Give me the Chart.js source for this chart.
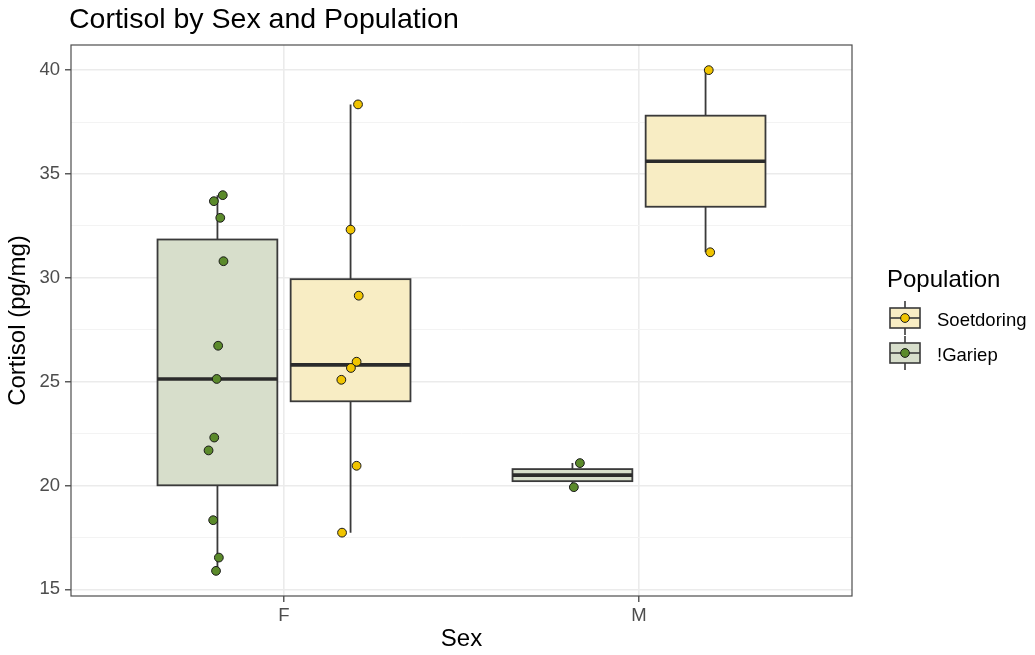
<!DOCTYPE html>
<html>
<head>
<meta charset="utf-8">
<title>Cortisol by Sex and Population</title>
<script src="https://cdn.jsdelivr.net/npm/chart.js@4.4.1/dist/chart.umd.min.js"></script>
<style>
  html, body { margin: 0; padding: 0; background: #ffffff; }
  canvas { display: block; }
</style>
</head>
<body>
<canvas id="chart" width="1035" height="655"></canvas>
<script>
// ---- data -------------------------------------------------------------
const sexes = ['F', 'M'];
const populations = ['!Gariep', 'Soetdoring'];
const legendOrder = ['Soetdoring', '!Gariep'];

// cortisol per sample (pg/mg)
const gariepF = [33.98, 33.69, 32.89, 30.80, 26.73, 25.13, 22.31, 21.69, 18.33, 16.53, 15.89];
const gariepM = [21.08, 19.92];
const soetdoringF = [38.35, 32.32, 29.14, 25.96, 25.66, 25.09, 20.95, 17.73];
const soetdoringM = [40.00, 31.23];

// horizontal jitter of each sample inside its box (category units)
const gariepFJitter = [0.015, -0.010, 0.008, 0.017, 0.002, -0.002, -0.009, -0.025, -0.012, 0.004, -0.004];
const gariepMJitter = [0.021, 0.004];
const soetdoringFJitter = [0.021, 0.000, 0.023, 0.017, 0.001, -0.026, 0.017, -0.024];
const soetdoringMJitter = [0.009, 0.013];

const yMajorTicks = [15, 20, 25, 30, 35, 40];
const yMinorTicks = [17.5, 22.5, 27.5, 32.5, 37.5];
const yTickLabels = ['15', '20', '25', '30', '35', '40'];

// ---- styling ----------------------------------------------------------
const FONT = "'Liberation Sans', Arial, Helvetica, sans-serif";
const style = {
  '!Gariep':    { point: '#5B8A2B', fill: '#D7DECB' },
  'Soetdoring': { point: '#F0C400', fill: '#F8EDC4' }
};
const DODGE = 0.1875;     // half the dodge width
const BOX_WIDTH = 0.3375; // width of one box in category units

const groups = [
  { pop: '!Gariep',    sex: 'F', values: gariepF,     jitter: gariepFJitter },
  { pop: '!Gariep',    sex: 'M', values: gariepM,     jitter: gariepMJitter },
  { pop: 'Soetdoring', sex: 'F', values: soetdoringF, jitter: soetdoringFJitter },
  { pop: 'Soetdoring', sex: 'M', values: soetdoringM, jitter: soetdoringMJitter }
];

function groupCenter(g) {
  const base = sexes.indexOf(g.sex) + 1;
  return base + (populations.indexOf(g.pop) === 0 ? -DODGE : DODGE);
}

// quantile, R type 7
function quantile(sorted, p) {
  const h = (sorted.length - 1) * p;
  const lo = Math.floor(h), hi = Math.ceil(h);
  return sorted[lo] + (h - lo) * (sorted[hi] - sorted[lo]);
}

function boxStats(values) {
  const s = values.slice().sort((a, b) => a - b);
  const q1 = quantile(s, 0.25), med = quantile(s, 0.5), q3 = quantile(s, 0.75);
  const iqr = q3 - q1;
  const inside = s.filter(v => v >= q1 - 1.5 * iqr && v <= q3 + 1.5 * iqr);
  return { q1, med, q3, lo: Math.min(...inside), hi: Math.max(...inside) };
}

// ---- datasets (jittered points) ----------------------------------------
const datasets = populations.map(pop => ({
  label: pop,
  data: groups.filter(g => g.pop === pop).flatMap(g =>
    g.values.map((v, i) => ({ x: groupCenter(g) + g.jitter[i], y: v }))),
  backgroundColor: style[pop].point,
  borderColor: '#1a1a1a',
  borderWidth: 1,
  pointRadius: 4.4,
  pointHoverRadius: 4.4
}));

// ---- plugins ----------------------------------------------------------
const boxPlugin = {
  id: 'boxes',
  beforeDatasetsDraw(chart) {
    const { ctx, scales: { x, y } } = chart;
    ctx.save();
    groups.forEach(g => {
      const st = boxStats(g.values);
      const cx = x.getPixelForValue(groupCenter(g));
      const half = (x.getPixelForValue(BOX_WIDTH) - x.getPixelForValue(0)) / 2;
      const yq1 = y.getPixelForValue(st.q1), yq3 = y.getPixelForValue(st.q3);
      const ymed = y.getPixelForValue(st.med);
      // whiskers
      ctx.strokeStyle = '#3a3a3a';
      ctx.lineWidth = 1.8;
      ctx.beginPath();
      ctx.moveTo(cx, yq3); ctx.lineTo(cx, y.getPixelForValue(st.hi));
      ctx.moveTo(cx, yq1); ctx.lineTo(cx, y.getPixelForValue(st.lo));
      ctx.stroke();
      // box
      ctx.fillStyle = style[g.pop].fill;
      ctx.fillRect(cx - half, yq3, 2 * half, yq1 - yq3);
      ctx.strokeStyle = '#3a3a3a';
      ctx.lineWidth = 1.8;
      ctx.strokeRect(cx - half, yq3, 2 * half, yq1 - yq3);
      // median
      ctx.strokeStyle = '#2b2b2b';
      ctx.lineWidth = 3.6;
      ctx.beginPath();
      ctx.moveTo(cx - half, ymed); ctx.lineTo(cx + half, ymed);
      ctx.stroke();
    });
    ctx.restore();
  }
};

const framePlugin = {
  id: 'frame',
  afterDatasetsDraw(chart) {
    const { ctx, chartArea: a } = chart;
    ctx.save();
    ctx.strokeStyle = '#4d4d4d';
    ctx.lineWidth = 1.2;
    ctx.strokeRect(a.left, a.top, a.right - a.left, a.bottom - a.top);
    ctx.restore();
  }
};

const decorPlugin = {
  id: 'decor',
  afterDraw(chart) {
    const { ctx } = chart;
    ctx.save();
    // title
    ctx.fillStyle = '#000000';
    ctx.font = `28.5px ${FONT}`;
    ctx.textAlign = 'left';
    ctx.textBaseline = 'alphabetic';
    ctx.fillText('Cortisol by Sex and Population', 69, 28);

    // legend
    ctx.font = `24px ${FONT}`;
    ctx.fillText('Population', 887, 287);
    legendOrder.forEach((pop, i) => {
      const cy = 318 + i * 35;
      const cx = 905;
      ctx.strokeStyle = '#3a3a3a';
      ctx.lineWidth = 1.6;
      ctx.beginPath();
      ctx.moveTo(cx, cy - 17); ctx.lineTo(cx, cy + 17);
      ctx.stroke();
      ctx.fillStyle = style[pop].fill;
      ctx.fillRect(890, cy - 10, 30, 20);
      ctx.strokeRect(890, cy - 10, 30, 20);
      ctx.beginPath();
      ctx.moveTo(890, cy); ctx.lineTo(920, cy);
      ctx.stroke();
      ctx.beginPath();
      ctx.arc(cx, cy, 4.4, 0, Math.PI * 2);
      ctx.fillStyle = style[pop].point;
      ctx.fill();
      ctx.strokeStyle = '#1a1a1a';
      ctx.lineWidth = 1;
      ctx.stroke();
      ctx.fillStyle = '#000000';
      ctx.font = `18.5px ${FONT}`;
      ctx.fillText(pop, 937, cy + 8);
    });
    ctx.restore();
  }
};

// ---- chart ------------------------------------------------------------
const isMajor = v => yMajorTicks.includes(v);

new Chart(document.getElementById('chart'), {
  type: 'scatter',
  data: { datasets },
  plugins: [boxPlugin, framePlugin, decorPlugin],
  options: {
    responsive: false,
    animation: false,
    devicePixelRatio: 1,
    layout: { padding: { top: 45, right: 183, left: 0, bottom: 0 } },
    plugins: {
      legend: { display: false },
      title: { display: false },
      tooltip: { enabled: false }
    },
    scales: {
      x: {
        type: 'linear',
        min: 0.4,
        max: 2.6,
        afterBuildTicks(scale) { scale.ticks = sexes.map((s, i) => ({ value: i + 1 })); },
        afterFit(scale) { scale.height = 59; },
        ticks: {
          callback: (v) => sexes[Math.round(v) - 1],
          color: '#4d4d4d',
          font: { family: FONT, size: 18.5 },
          padding: 3,
          maxRotation: 0
        },
        grid: {
          color: '#EBEBEB',
          lineWidth: 1.6,
          tickColor: '#333333',
          tickLength: 6,
          tickWidth: 1.2,
          drawTicks: true
        },
        border: { display: false },
        title: {
          display: true,
          text: 'Sex',
          color: '#000000',
          font: { family: FONT, size: 24 },
          padding: { top: 0, bottom: 1 }
        }
      },
      y: {
        type: 'linear',
        min: 14.68,
        max: 41.21,
        afterBuildTicks(scale) {
          scale.ticks = yMajorTicks.concat(yMinorTicks).sort((a, b) => a - b).map(v => ({ value: v }));
        },
        afterFit(scale) { scale.width = 71; },
        ticks: {
          callback: (v) => isMajor(v) ? yTickLabels[yMajorTicks.indexOf(v)] : '',
          color: '#4d4d4d',
          font: { family: FONT, size: 18.5 },
          padding: 5
        },
        grid: {
          color: (c) => isMajor(c.tick.value) ? '#EBEBEB' : '#F3F3F3',
          lineWidth: (c) => isMajor(c.tick.value) ? 1.6 : 1,
          tickColor: (c) => isMajor(c.tick.value) ? '#333333' : 'rgba(0,0,0,0)',
          tickLength: 6,
          tickWidth: 1.2,
          drawTicks: true
        },
        border: { display: false },
        title: {
          display: true,
          text: 'Cortisol (pg/mg)',
          color: '#000000',
          font: { family: FONT, size: 24 },
          padding: { top: 4, bottom: 0 }
        }
      }
    }
  }
});
</script>
</body>
</html>
